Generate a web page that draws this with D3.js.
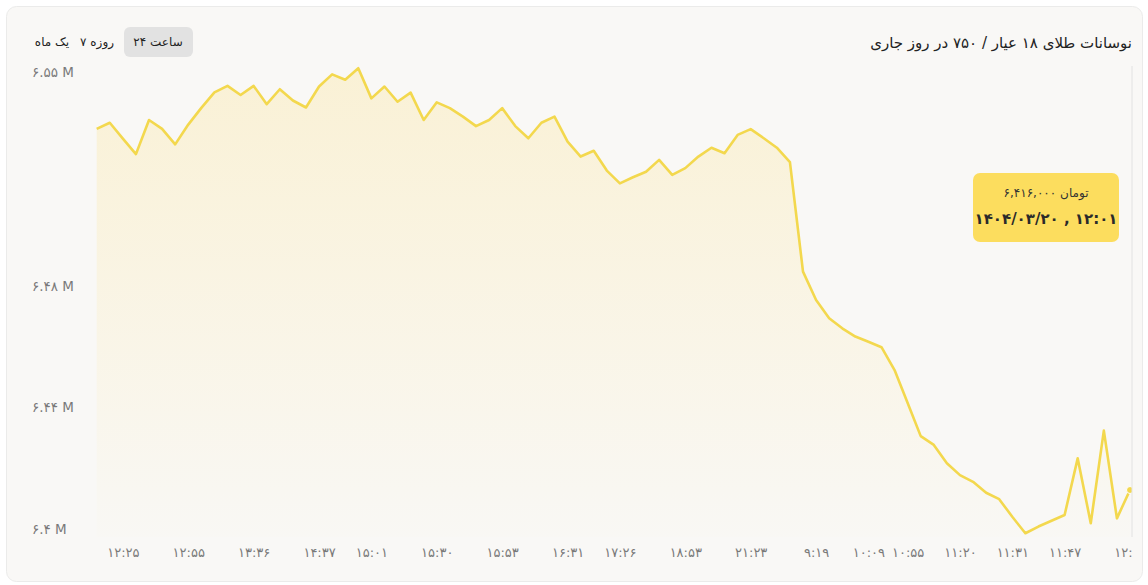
<!DOCTYPE html>
<html>
<head>
<meta charset="utf-8">
<script src="https://cdn.jsdelivr.net/npm/d3@7"></script>
<style>
  html, body { margin: 0; padding: 0; background: #ffffff; }
  #wrap { position: relative; width: 1148px; height: 585px; font-family: "DejaVu Sans", sans-serif; }
  svg { display: block; font-family: "DejaVu Sans", sans-serif; }
  .btn { position: absolute; top: 27px; height: 30px; line-height: 30px; font-size: 12px; color: #222;
         text-align: center; direction: ltr; unicode-bidi: isolate; white-space: nowrap; border-radius: 6px; }
  .btn.active { background: #e2e2e2; }
  #tip { position: absolute; left: 973px; top: 173px; width: 146px; height: 69px; background: #fcdd5e;
         border-radius: 7px; text-align: center; color: #2a2a2a; direction: ltr; }
  #tip .v { font-size: 12px; color: #333; margin-top: 11px; height: 18px; line-height: 18px; direction: ltr; unicode-bidi: isolate; }
  #tip .d { font-size: 15px; font-weight: bold; margin-top: 7px; height: 20px; line-height: 20px; direction: ltr; unicode-bidi: isolate; }
</style>
</head>
<body>
<div id="wrap">
<svg id="chart" width="1148" height="585"></svg>
</div>
<script>
// ---- data (values in millions of toman) ----
const prices = [
  6.5315, 6.5335, 6.5283, 6.5232, 6.5344, 6.5315, 6.5264, 6.5329, 6.5384, 6.5435,
  6.5456, 6.5426, 6.5456, 6.5396, 6.5445, 6.5408, 6.5385, 6.5454, 6.5494, 6.5476,
  6.5514, 6.5415, 6.5454, 6.5404, 6.5434, 6.5344, 6.5402, 6.5383, 6.5355, 6.5324,
  6.5344, 6.5383, 6.5324, 6.5284, 6.5335, 6.5355, 6.5273, 6.5224, 6.5243, 6.5178,
  6.5136, 6.5156, 6.5174, 6.5213, 6.5164, 6.5186, 6.5224, 6.5253, 6.5235, 6.5295,
  6.5314, 6.5284, 6.5253, 6.5206, 6.4846, 6.4753, 6.4693, 6.4660, 6.4633, 6.4616,
  6.4598, 6.4523, 6.4415, 6.4306, 6.4277, 6.4217, 6.4178, 6.4156, 6.4120, 6.4099,
  6.4041, 6.3987, 6.4009, 6.4028, 6.4047, 6.4233, 6.4020, 6.4324, 6.4036, 6.4129
];
const xTickIndex = [2, 7, 12, 17, 21, 26, 31, 36, 40, 45, 50, 55, 59, 62, 66, 70, 74, 79];
const xTickLabels = ["12:25", "12:55", "13:36", "14:37", "15:01", "15:30", "15:53", "16:31", "17:26",
  "18:53", "21:23", "9:19", "10:09", "10:55", "11:20", "11:31", "11:47", "12:01"];
const yTickValues = [6.4, 6.44, 6.48, 6.55];
const titleText = "نوسانات طلای ۱۸ عیار / ۷۵۰ در روز جاری";
const rangeButtons = ["۲۴ ساعت", "۷ روزه", "یک ماه"];
const activeButton = "۲۴ ساعت";
const tooltipValue = 6416000;
const tooltipUnit = "تومان";
const tooltipDate = "1404/03/20 , 12:01";

// ---- helpers ----
const faDigits = "۰۱۲۳۴۵۶۷۸۹";
const toFa = s => String(s).replace(/[0-9]/g, d => faDigits[+d]);

const svg = d3.select("#chart");
const wrap = d3.select("#wrap");

// card
svg.append("rect")
  .attr("x", 6.5).attr("y", 6.5).attr("width", 1136).attr("height", 575)
  .attr("rx", 10).attr("fill", "#f9f8f6").attr("stroke", "#ebebea");

// scales
const x = d3.scaleLinear().domain([0, prices.length - 1]).range([96.7, 1130]);
const y = d3.scaleLinear().domain([6.40, 6.55]).range([529.3, 72.5]);
const yBase = 537;

// defs
const defs = svg.append("defs");
const grad = defs.append("linearGradient").attr("id", "areaGrad")
  .attr("x1", 0).attr("y1", 0).attr("x2", 0).attr("y2", 1);
grad.append("stop").attr("offset", "0%").attr("stop-color", "#fbe6a0").attr("stop-opacity", 0.38);
grad.append("stop").attr("offset", "100%").attr("stop-color", "#fbe6a0").attr("stop-opacity", 0.02);
defs.append("clipPath").attr("id", "plotClip")
  .append("rect").attr("x", 90).attr("y", 50).attr("width", 1132 - 90).attr("height", 500);
defs.append("clipPath").attr("id", "axisClip")
  .append("rect").attr("x", 90).attr("y", 0).attr("width", 1133 - 90).attr("height", 40);

// y axis labels
const yAxis = d3.axisRight(y).tickValues(yTickValues).tickSize(0).tickPadding(0)
  .tickFormat(v => toFa(String(+v.toFixed(2))) + " M");
const gy = svg.append("g").attr("transform", "translate(32,0)").call(yAxis);
gy.select(".domain").remove();
gy.selectAll("text").attr("fill", "#7a7a7a").attr("font-size", 13.5)
  .attr("font-family", "DejaVu Sans, sans-serif").attr("text-anchor", "start");

// x axis labels
const xAxis = d3.axisBottom(x).tickValues(xTickIndex).tickSize(0).tickPadding(11)
  .tickFormat((d, i) => toFa(xTickLabels[i]));
const gx = svg.append("g").attr("transform", `translate(0,${yBase})`)
  .attr("clip-path", "url(#axisClip)").call(xAxis);
gx.select(".domain").remove();
gx.selectAll("text").attr("fill", "#7a7a7a").attr("font-size", 13)
  .attr("font-family", "DejaVu Sans, sans-serif");

// plot
const plot = svg.append("g").attr("clip-path", "url(#plotClip)");
const area = d3.area().x((d, i) => x(i)).y0(yBase).y1(d => y(d));
const line = d3.line().x((d, i) => x(i)).y(d => y(d));
plot.append("path").datum(prices).attr("d", area).attr("fill", "url(#areaGrad)");
plot.append("path").datum(prices).attr("d", line)
  .attr("fill", "none").attr("stroke", "#f3d84e").attr("stroke-width", 2.6)
  .attr("stroke-linejoin", "round");
const lastI = prices.length - 1;
plot.append("circle").attr("cx", x(lastI)).attr("cy", y(prices[lastI])).attr("r", 3.5)
  .attr("fill", "#f3d84e").attr("stroke", "#ffffff").attr("stroke-width", 1);

// crosshair at hovered (last) point
svg.append("line").attr("x1", 1132).attr("x2", 1132).attr("y1", 66).attr("y2", yBase)
  .attr("stroke", "#e2e2e2").attr("stroke-width", 1);

// title
svg.append("text").attr("x", 1132).attr("y", 43).attr("dy", "0.35em").attr("text-anchor", "end")
  .attr("font-size", 15).attr("fill", "#222").text(titleText);

// tooltip (HTML for reliable LTR bidi)
const tip = wrap.append("div").attr("id", "tip");
tip.append("div").attr("class", "v").text(toFa(d3.format(",")(tooltipValue)) + " " + tooltipUnit);
tip.append("div").attr("class", "d").text(toFa(tooltipDate));

// range buttons (HTML)
const btnCenters = [158, 97, 52];
const btnWidths = [69, 50, 44];
rangeButtons.forEach((b, i) => {
  wrap.append("div")
    .attr("class", "btn" + (b === activeButton ? " active" : ""))
    .style("left", (btnCenters[i] - btnWidths[i] / 2) + "px")
    .style("width", btnWidths[i] + "px")
    .attr("dir", "ltr")
    .text(b);
});
</script>
</body>
</html>
